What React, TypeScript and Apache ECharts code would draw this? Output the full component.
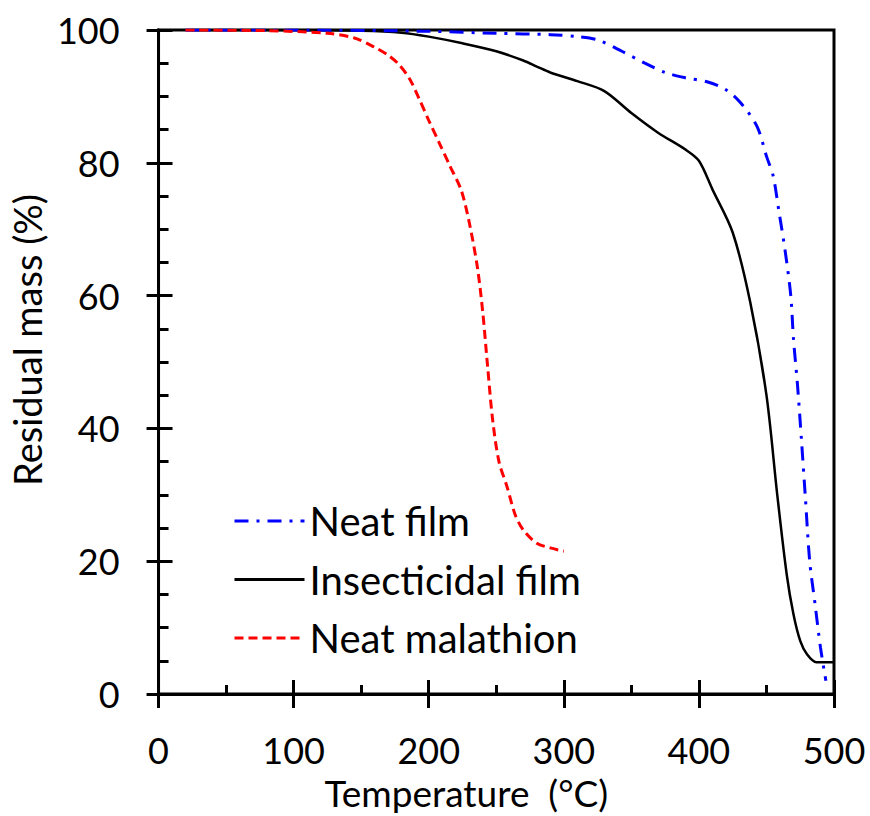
import React, { useEffect, useRef } from "react";
import * as echarts from "echarts";

// ---- Data ----
const neatFilmTemp = [20, 100, 200, 250, 290, 310, 325, 343, 360, 375, 390, 406, 420, 431, 443, 450, 455, 459, 464, 468, 470, 473, 476, 479, 482, 486, 490, 494];
const neatFilmMass = [100, 100, 99.8, 99.5, 99.3, 99, 98.5, 96.8, 95, 93.6, 92.8, 92.2, 91, 89, 85.5, 81, 78, 73, 66.5, 60, 53.5, 46.5, 38, 29, 20, 13.5, 7, 2];

const insectFilmTemp = [25, 100, 150, 180, 200, 225, 250, 270, 280, 290, 310, 330, 350, 370, 390, 400, 410, 425, 438, 450, 458, 465, 470, 475, 480, 487, 500];
const insectFilmMass = [100, 100, 99.9, 99.6, 99.0, 98.0, 96.8, 95.4, 94.5, 93.6, 92.3, 90.8, 87.5, 84.5, 82, 80.3, 76, 69.5, 59, 45, 30, 18, 12, 8, 6, 4.8, 4.8];

const malathionTemp = [20, 80, 125, 145, 160, 170, 178, 186, 193, 200, 208, 216, 224, 230, 236, 240, 243.6, 247.3, 252, 258, 264, 270, 280, 290, 300];
const malathionMass = [100, 99.9, 99.5, 98.8, 97.4, 96.2, 94.8, 92.6, 89.6, 86.4, 82.9, 79.4, 75.9, 71, 64.3, 57.5, 49.3, 41.3, 35, 31.2, 27, 24.7, 22.7, 22, 21.5];

const seriesNames = ["Neat film", "Insecticidal film", "Neat malathion"];
const xTitle = "Temperature  (°C)";
const yTitle = "Residual mass (%)";

const zip = (xs: number[], ys: number[]) => xs.map((x, i) => [x, ys[i]]);

const FONT = "Lato";

export default function App() {
  const ref = useRef<HTMLDivElement>(null);

  useEffect(() => {
    document.body.style.margin = "0";
    if (!ref.current) return;
    const chart = echarts.init(ref.current, undefined, { renderer: "svg" });

    const axisLine = { show: true, lineStyle: { color: "#000", width: 3 } };
    const labelStyle = { color: "#000", fontFamily: FONT, fontSize: 36 };

    chart.setOption({
      animation: false,
      backgroundColor: "#fff",
      grid: {
        left: 157,
        right: 36,
        top: 30,
        bottom: 122,
        show: true,
        borderColor: "#000",
        borderWidth: 3,
        backgroundColor: "transparent",
      },
      legend: {
        orient: "vertical",
        left: 228,
        top: 496,
        itemWidth: 70,
        itemHeight: 14,
        itemGap: 18.5,
        data: seriesNames,
        itemStyle: { opacity: 0 },
        lineStyle: { width: 3 },
        textStyle: { color: "#000", fontFamily: FONT, fontSize: 40, lineHeight: 40 },
      },
      xAxis: [
        {
          type: "value",
          position: "bottom",
          min: 0,
          max: 500,
          interval: 100,
          axisLine,
          axisTick: { show: true, inside: false, length: 14, lineStyle: { color: "#000", width: 3 } },
          minorTick: { show: false },
          axisLabel: { ...labelStyle, margin: 38 },
          splitLine: { show: false },
          name: xTitle,
          nameLocation: "middle",
          nameGap: 80,
          nameTextStyle: { color: "#000", fontFamily: FONT, fontSize: 37, padding: [0, 60, 0, 0] },
        },
        {
          type: "value",
          position: "bottom",
          min: 0,
          max: 500,
          interval: 100,
          axisLine,
          axisTick: { show: true, inside: true, length: 14, lineStyle: { color: "#000", width: 3 } },
          minorTick: { show: true, splitNumber: 2, length: 9, lineStyle: { color: "#000", width: 3 } },
          axisLabel: { show: false },
          splitLine: { show: false },
        },
      ],
      yAxis: [
        {
          type: "value",
          position: "left",
          min: 0,
          max: 100,
          interval: 20,
          axisLine,
          axisTick: { show: true, inside: false, length: 12, lineStyle: { color: "#000", width: 3 } },
          minorTick: { show: false },
          axisLabel: { ...labelStyle, margin: 39 },
          splitLine: { show: false },
          name: yTitle,
          nameLocation: "middle",
          nameGap: 110,
          nameTextStyle: { color: "#000", fontFamily: FONT, fontSize: 38, padding: [0, 0, 0, 44] },
        },
        {
          type: "value",
          position: "left",
          min: 0,
          max: 100,
          interval: 20,
          axisLine,
          axisTick: { show: true, inside: true, length: 14, lineStyle: { color: "#000", width: 3 } },
          minorTick: { show: true, splitNumber: 4, length: 10, lineStyle: { color: "#000", width: 3 } },
          axisLabel: { show: false },
          splitLine: { show: false },
        },
      ],
      series: [
        {
          name: seriesNames[0],
          type: "line",
          xAxisIndex: 0,
          yAxisIndex: 0,
          data: zip(neatFilmTemp, neatFilmMass),
          showSymbol: false,
          symbol: "none",
          smooth: 0.3,
          z: 3,
          lineStyle: { color: "#0000FF", width: 3, type: [14, 8, 3, 8] },
          itemStyle: { color: "#0000FF" },
        },
        {
          name: seriesNames[1],
          type: "line",
          xAxisIndex: 0,
          yAxisIndex: 0,
          data: zip(insectFilmTemp, insectFilmMass),
          showSymbol: false,
          symbol: "none",
          smooth: 0.3,
          z: 2,
          lineStyle: { color: "#000", width: 2.5, type: "solid" },
          itemStyle: { color: "#000" },
        },
        {
          name: seriesNames[2],
          type: "line",
          xAxisIndex: 0,
          yAxisIndex: 0,
          data: zip(malathionTemp, malathionMass),
          showSymbol: false,
          symbol: "none",
          smooth: 0.3,
          z: 4,
          lineStyle: { color: "#FF0000", width: 3, type: [9, 5] },
          itemStyle: { color: "#FF0000" },
        },
      ],
    });

    return () => chart.dispose();
  }, []);

  return <div ref={ref} style={{ width: 870, height: 816 }} />;
}
